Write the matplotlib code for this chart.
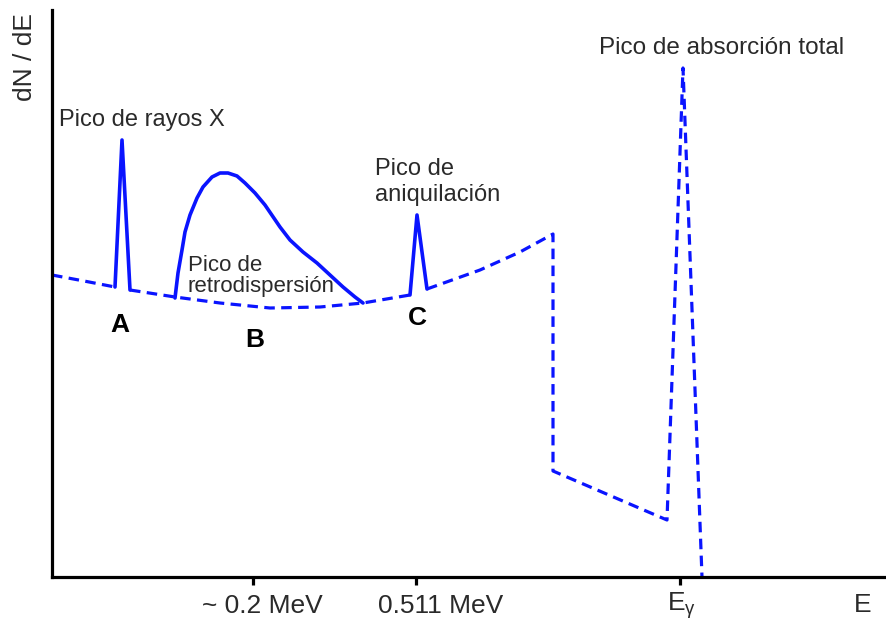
import matplotlib.pyplot as plt

# schematic gamma spectrum (arbitrary units)
# x = energy, y = dN/dE

# dashed continuum (Compton), split where the solid peaks sit on it
cont1_x = [0, 32, 63]
cont1_y = [302, 296, 290]
cont2_x = [78, 123, 168, 218, 268, 311, 358]
cont2_y = [287, 280, 274, 269, 270, 274, 282]
cont3_x = [375, 428, 468, 501, 501, 615, 631, 650]
cont3_y = [288, 307, 325, 343, 106, 57, 509, 0]

# solid peaks
xray_x = [63, 70, 78]
xray_y = [290, 437, 287]
annih_x = [358, 365, 375]
annih_y = [282, 362, 288]
back_x = [123, 126, 130, 133, 138, 145, 151, 160, 168, 176, 185, 193, 203, 213,
          228, 238, 251, 265, 278, 291, 303, 311]
back_y = [279, 304, 327, 345, 362, 379, 390, 400, 404, 404, 401, 394, 384, 372,
          350, 337, 325, 314, 302, 290, 280, 274]

tick_pos = [201, 364, 628]
label_pos = [210, 389, 630]
tick_labels = ['~ 0.2 MeV', '0.511 MeV', r'E$_{\mathrm{γ}}$']

blue = '#0a14ff'
txt = '#2a2a2a'
plt.rcParams['font.family'] = ['Liberation Sans', 'DejaVu Sans']
plt.rcParams['mathtext.fontset'] = 'custom'
plt.rcParams['mathtext.rm'] = 'Liberation Sans'
plt.rcParams['mathtext.it'] = 'Liberation Sans:italic'

fig = plt.figure(figsize=(8.87, 6.24), dpi=100)
ax = fig.add_axes([52/887, 47/624, 835/887, 567/624])

dash = (3.3, 2.0)
for xs, ys in [(cont1_x, cont1_y), (cont2_x, cont2_y), (cont3_x, cont3_y)]:
    ax.plot(xs, ys, color=blue, lw=2.3, ls=(0, dash), solid_joinstyle='miter')
for xs, ys in [(xray_x, xray_y), (annih_x, annih_y), (back_x, back_y)]:
    ax.plot(xs, ys, color=blue, lw=2.6, solid_joinstyle='round',
            solid_capstyle='round')

ax.set_xlim(0, 835)
ax.set_ylim(0, 567)
for s in ['top', 'right']:
    ax.spines[s].set_visible(False)
for s in ['left', 'bottom']:
    ax.spines[s].set_linewidth(2.3)
    ax.spines[s].set_color('black')
ax.set_yticks([])
ax.set_xticks(tick_pos)
ax.set_xticklabels([])
ax.tick_params(axis='x', length=6, width=2.3)

# tick labels sit a bit right of their ticks in the original
xtrans = ax.get_xaxis_transform()
for xp, lab in zip(label_pos, tick_labels):
    ax.text(xp, -0.051, lab, transform=xtrans, fontsize=19, color=txt,
            ha='center', va='center')

# annotations
ax.text(7, 457, 'Pico de rayos X', fontsize=17, color=txt, va='center', ha='left')
ax.text(136, 301, 'Pico de\nretrodispersión', fontsize=16, color=txt,
        va='center', ha='left', linespacing=1.0)
ax.text(323, 395, 'Pico de\naniquilación', fontsize=17, color=txt,
        va='center', ha='left', linespacing=1.2)
ax.text(670, 529, 'Pico de absorción total', fontsize=17.5, color=txt,
        va='center', ha='center')
ax.text(68, 252, 'A', fontsize=19, fontweight='bold', ha='center', va='center')
ax.text(203, 237, 'B', fontsize=19, fontweight='bold', ha='center', va='center')
ax.text(365, 259, 'C', fontsize=19, fontweight='bold', ha='center', va='center')

fig.text(25/887, 1 - 57/624, 'dN / dE', fontsize=19, color=txt, rotation=90,
         ha='center', va='center')
fig.text(863/887, 1 - 605/624, 'E', fontsize=19, color=txt, ha='center', va='center')

fig.savefig('out.png', dpi=100)
